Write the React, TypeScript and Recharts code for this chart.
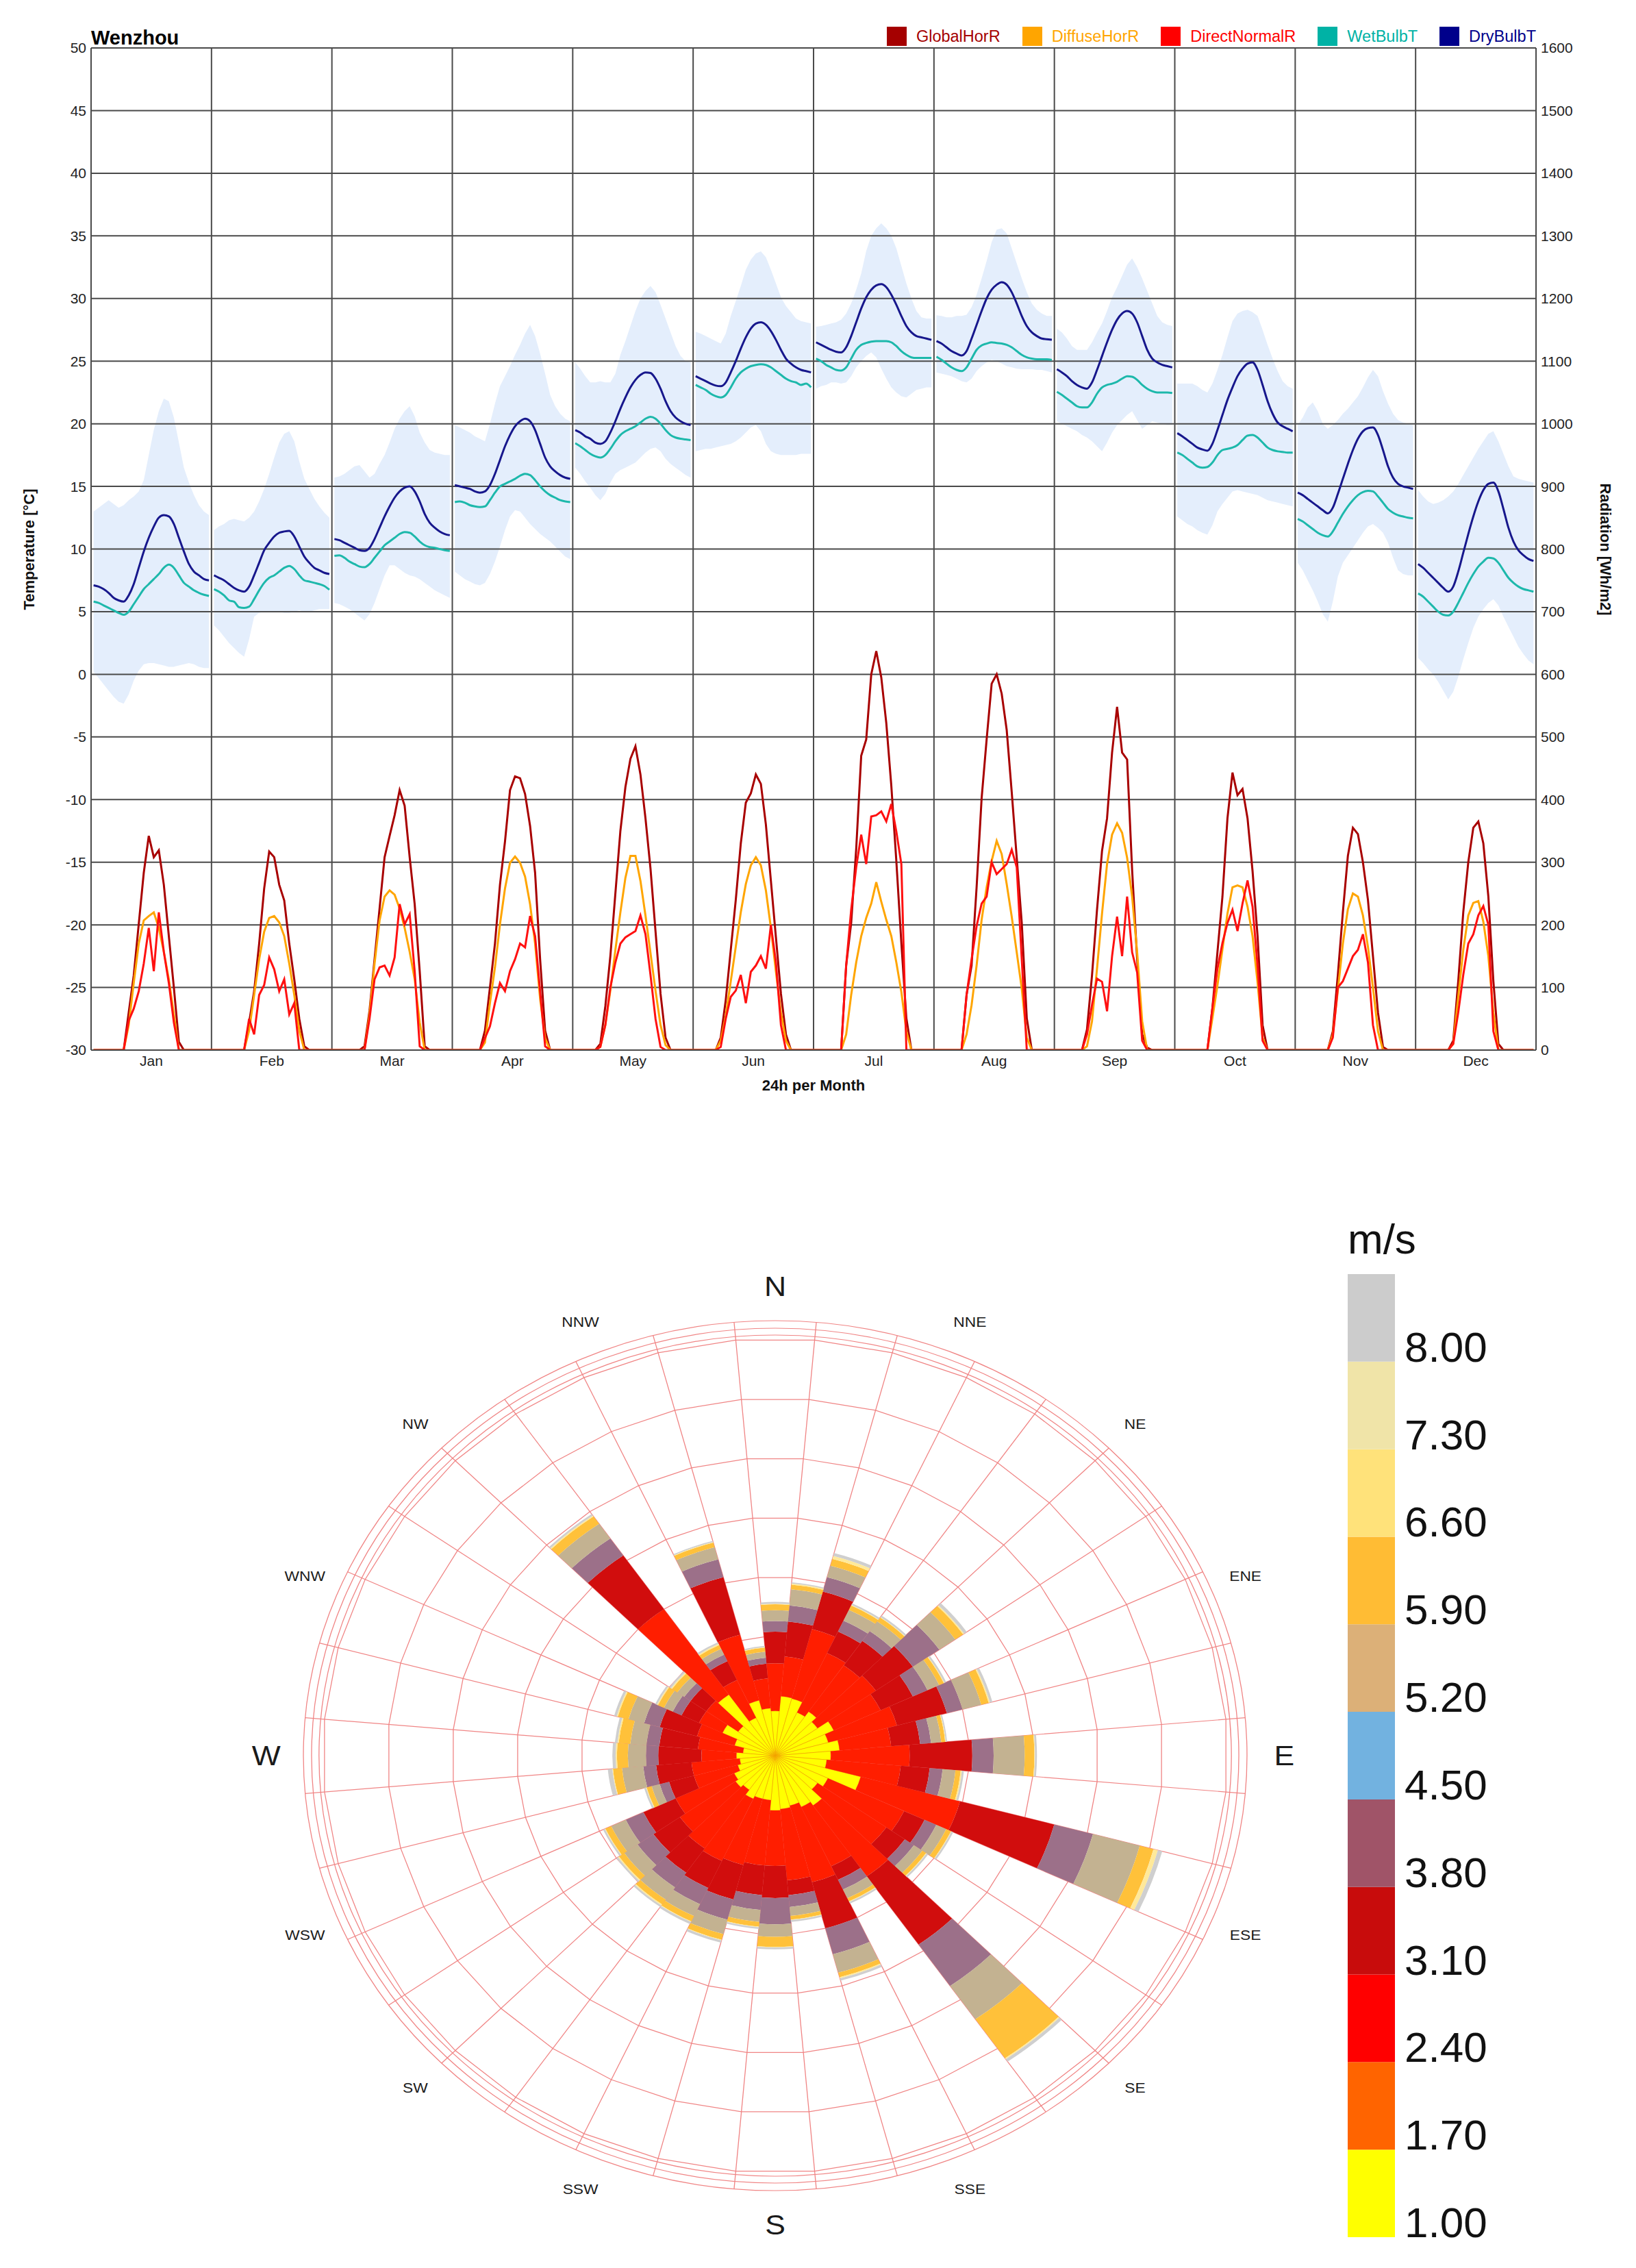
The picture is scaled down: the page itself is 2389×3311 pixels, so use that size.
import React from 'react';
import {
  ComposedChart, Line, Area, XAxis, YAxis, ReferenceLine,
  RadialBarChart, RadialBar, PolarGrid, PolarAngleAxis, PolarRadiusAxis,
  BarChart, Bar,
} from 'recharts';

// ---------------- climate data (24 hourly values per month) ----------------
const months = ['Jan', 'Feb', 'Mar', 'Apr', 'May', 'Jun', 'Jul', 'Aug', 'Sep', 'Oct', 'Nov', 'Dec'];

const dryBulb = [
  [7.1,7.0,6.8,6.5,6.1,5.9,5.8,6.3,7.2,8.5,9.8,10.9,11.8,12.5,12.7,12.6,12.0,10.9,9.8,8.8,8.2,7.9,7.6,7.5],
  [7.9,7.7,7.5,7.2,6.9,6.7,6.6,7.0,7.9,8.9,9.9,10.5,11.0,11.3,11.4,11.45,11.0,10.2,9.4,8.9,8.5,8.3,8.1,8.0],
  [10.8,10.7,10.5,10.3,10.1,9.9,9.85,10.1,10.8,11.7,12.6,13.4,14.1,14.6,14.9,15.0,14.6,13.8,12.8,12.1,11.7,11.4,11.2,11.1],
  [15.1,15.0,14.9,14.8,14.6,14.5,14.6,15.1,16.0,17.1,18.2,19.1,19.8,20.2,20.4,20.2,19.5,18.4,17.3,16.6,16.2,15.9,15.7,15.6],
  [19.5,19.3,19.0,18.8,18.5,18.4,18.6,19.3,20.2,21.2,22.1,22.9,23.5,23.9,24.1,24.05,23.6,22.8,21.8,21.0,20.5,20.2,20.0,19.9],
  [23.8,23.6,23.4,23.2,23.05,23.0,23.3,24.1,25.0,26.0,26.9,27.6,28.0,28.1,27.9,27.4,26.7,25.9,25.2,24.8,24.5,24.3,24.2,24.1],
  [26.5,26.3,26.1,25.9,25.75,25.7,26.1,27.0,28.1,29.2,30.1,30.7,31.05,31.15,30.9,30.3,29.5,28.6,27.8,27.3,27.0,26.9,26.8,26.7],
  [26.6,26.4,26.1,25.8,25.6,25.45,25.8,26.8,27.9,29.0,30.0,30.7,31.1,31.3,31.1,30.5,29.6,28.6,27.8,27.3,27.0,26.8,26.75,26.7],
  [24.35,24.1,23.8,23.4,23.1,22.9,22.8,23.3,24.3,25.4,26.5,27.5,28.3,28.8,29.0,28.8,28.1,27.0,25.9,25.2,24.9,24.7,24.6,24.5],
  [19.25,19.0,18.7,18.4,18.1,17.95,17.85,18.4,19.5,20.7,21.9,22.9,23.8,24.4,24.8,24.9,24.3,23.1,21.8,20.8,20.1,19.8,19.6,19.4],
  [14.5,14.3,14.0,13.7,13.4,13.1,12.85,13.3,14.4,15.6,16.8,17.9,18.8,19.4,19.65,19.7,19.1,17.9,16.6,15.7,15.2,15.0,14.9,14.8],
  [8.8,8.5,8.1,7.7,7.3,6.9,6.6,7.0,8.2,9.7,11.2,12.6,13.8,14.7,15.2,15.3,14.6,13.2,11.7,10.6,9.9,9.5,9.2,9.05],
];

const wetBulb = [
  [5.8,5.7,5.5,5.3,5.1,4.9,4.75,5.0,5.6,6.2,6.8,7.2,7.6,8.0,8.5,8.75,8.5,7.9,7.3,7.0,6.7,6.5,6.35,6.25],
  [6.8,6.6,6.3,5.9,5.8,5.35,5.3,5.4,6.0,6.7,7.3,7.7,7.9,8.2,8.5,8.65,8.4,7.9,7.5,7.4,7.3,7.2,7.05,6.75],
  [9.45,9.5,9.3,9.0,8.8,8.6,8.55,8.8,9.3,9.8,10.3,10.6,10.9,11.2,11.35,11.3,11.0,10.6,10.3,10.15,10.1,10.0,9.9,9.85],
  [13.75,13.8,13.7,13.5,13.4,13.35,13.4,13.9,14.5,15.0,15.2,15.4,15.6,15.85,16.0,15.9,15.5,15.0,14.6,14.3,14.1,13.9,13.8,13.75],
  [18.45,18.2,17.9,17.6,17.4,17.3,17.5,18.0,18.6,19.1,19.4,19.6,19.8,20.1,20.4,20.55,20.4,20.0,19.5,19.1,18.9,18.8,18.75,18.7],
  [23.1,22.9,22.7,22.4,22.2,22.1,22.3,22.9,23.6,24.1,24.4,24.6,24.7,24.75,24.7,24.5,24.2,23.9,23.6,23.4,23.3,23.1,23.2,22.9],
  [25.2,25.0,24.7,24.5,24.3,24.25,24.5,25.2,25.9,26.3,26.45,26.55,26.6,26.6,26.6,26.5,26.2,25.8,25.5,25.3,25.25,25.25,25.25,25.25],
  [25.35,25.1,24.8,24.5,24.3,24.2,24.5,25.2,25.9,26.25,26.4,26.5,26.45,26.4,26.3,26.1,25.8,25.5,25.3,25.2,25.15,25.15,25.15,25.1],
  [22.55,22.3,22.0,21.7,21.4,21.3,21.3,21.7,22.4,22.9,23.1,23.2,23.35,23.6,23.8,23.75,23.5,23.1,22.8,22.6,22.5,22.5,22.5,22.45],
  [17.7,17.5,17.2,16.9,16.6,16.5,16.55,16.9,17.5,17.9,18.0,18.1,18.3,18.7,19.05,19.1,18.9,18.5,18.1,17.9,17.8,17.75,17.7,17.7],
  [12.4,12.2,11.9,11.6,11.3,11.1,11.0,11.4,12.1,12.8,13.4,13.9,14.3,14.55,14.65,14.6,14.2,13.7,13.2,12.9,12.7,12.6,12.5,12.45],
  [6.45,6.2,5.8,5.4,5.0,4.75,4.7,5.0,5.7,6.5,7.3,8.0,8.6,9.0,9.3,9.25,8.9,8.3,7.7,7.3,7.0,6.8,6.7,6.6],
];

const bandHigh = [
  [13.0,13.3,13.6,13.9,13.6,13.3,13.5,13.9,14.2,14.6,15.5,17.5,19.5,21.0,22.0,21.8,20.5,18.5,16.5,15.3,14.3,13.5,13.0,12.7],
  [11.5,11.8,12.0,12.3,12.4,12.3,12.2,12.5,13.0,13.8,14.8,16.0,17.3,18.5,19.2,19.4,18.6,17.0,15.6,14.8,14.0,13.4,12.9,12.5],
  [15.7,15.8,16.0,16.3,16.6,16.7,16.2,15.7,16.0,16.8,17.5,18.5,19.6,20.4,21.0,21.4,20.6,19.3,18.5,17.9,17.7,17.6,17.5,17.5],
  [19.9,19.7,19.5,19.3,19.0,18.8,18.6,20.0,21.6,23.0,23.8,24.6,25.5,26.3,27.2,27.9,27.0,25.6,24.0,22.3,21.4,20.8,20.4,20.2],
  [24.9,24.4,23.8,23.3,23.3,23.4,23.3,23.3,24.0,25.5,26.6,27.8,29.0,30.0,30.6,31.0,30.5,29.5,28.4,27.3,26.2,25.4,25.0,24.9],
  [27.35,27.2,27.0,26.8,26.6,26.4,27.2,28.6,29.8,31.0,32.3,33.1,33.6,33.76,33.3,32.3,31.2,30.1,29.4,28.9,28.4,28.2,28.1,28.0],
  [27.75,27.8,27.9,28.0,28.1,28.3,28.8,29.6,30.7,32.0,33.8,35.0,35.6,36.0,35.6,35.0,34.0,32.6,31.2,30.0,29.0,28.5,28.4,28.4],
  [28.66,28.6,28.5,28.5,28.6,28.6,28.7,29.3,30.3,31.6,33.0,34.5,35.5,35.6,35.2,34.0,32.8,31.6,30.5,29.6,29.1,28.8,28.6,28.6],
  [27.6,27.3,26.8,26.2,25.9,25.9,25.9,26.5,27.3,28.0,29.0,30.1,30.9,31.8,32.7,33.2,32.5,31.6,30.6,29.6,28.6,28.1,27.9,27.8],
  [23.2,23.2,23.2,23.2,23.0,22.7,22.5,23.2,24.3,25.5,26.9,28.2,28.8,29.0,29.1,28.9,28.6,27.5,26.3,25.2,24.2,23.4,23.0,22.8],
  [19.9,20.5,21.3,21.7,21.0,20.0,19.6,19.9,20.3,20.8,21.2,21.7,22.2,22.9,23.7,24.3,23.8,22.6,21.6,20.8,20.3,20.1,20.0,19.9],
  [14.7,14.2,13.8,13.6,13.7,13.9,14.2,14.6,15.2,15.9,16.6,17.3,18.0,18.6,19.2,19.4,18.6,17.6,16.6,15.8,15.6,15.5,15.4,15.3],
];

const bandLow = [
  [0.2,-0.3,-0.8,-1.3,-1.8,-2.2,-2.35,-1.6,-0.5,0.3,0.8,0.9,0.9,0.8,0.7,0.6,0.6,0.7,0.8,0.9,0.8,0.6,0.5,0.5],
  [3.9,3.5,3.0,2.5,2.1,1.7,1.4,2.8,4.6,4.9,5.0,5.0,5.0,5.0,4.9,4.9,5.0,5.1,5.0,5.0,5.1,5.2,5.2,5.2],
  [5.7,5.6,5.4,5.2,4.9,4.6,4.3,4.8,5.7,6.8,7.9,8.7,8.7,8.4,8.1,7.9,7.8,7.6,7.3,7.0,6.7,6.5,6.3,6.1],
  [8.2,7.9,7.6,7.4,7.2,7.1,7.3,8.0,9.0,10.2,11.5,12.6,13.1,13.0,12.5,12.0,11.6,11.2,10.9,10.6,10.2,9.8,9.4,9.2],
  [16.5,16.0,15.4,14.9,14.3,13.9,14.4,15.3,16.0,16.3,16.5,16.7,16.9,17.3,17.7,18.0,18.1,17.8,17.2,16.8,16.5,16.2,15.9,15.7],
  [17.8,17.9,18.0,18.0,18.1,18.2,18.3,18.4,18.6,18.9,19.3,19.7,19.9,19.4,18.4,17.8,17.6,17.5,17.5,17.5,17.5,17.6,17.6,17.6],
  [22.8,23.0,23.1,23.3,23.3,23.2,23.3,23.8,24.5,25.0,25.4,25.7,25.3,24.4,23.6,22.9,22.5,22.2,22.1,22.4,22.7,22.8,22.9,22.9],
  [24.1,24.0,23.9,23.8,23.6,23.4,23.3,23.6,24.2,24.6,24.9,25.1,25.0,24.8,24.6,24.5,24.4,24.35,24.35,24.35,24.3,24.3,24.2,24.1],
  [20.2,20.0,19.8,19.6,19.4,19.1,18.9,18.6,18.2,17.8,18.5,19.3,19.9,20.3,20.7,21.0,20.3,19.6,19.9,20.2,20.1,20.0,19.9,19.9],
  [12.6,12.3,12.0,11.8,11.5,11.3,11.15,11.9,13.0,13.6,14.1,14.6,14.7,14.6,14.5,14.4,14.3,14.1,13.9,13.8,13.7,13.6,13.5,13.4],
  [8.9,8.3,7.5,6.7,5.8,4.8,4.2,5.8,7.8,8.9,9.5,10.1,10.7,11.3,11.8,12.0,11.7,11.3,10.5,9.3,8.3,8.0,7.9,7.9],
  [1.3,0.9,0.4,0.0,-0.6,-1.3,-2.0,-1.4,-0.2,1.2,2.5,3.7,4.6,5.2,5.7,6.0,5.5,4.6,3.8,3.0,2.2,1.6,1.1,0.8],
];

const globalHor = [
  [0,0,0,0,0,0,0,60,119,201,283,342,308,319,264,182,100,13,0,0,0,0,0,0],
  [0,0,0,0,0,0,0,44,94,170,258,317,308,264,239,170,113,50,6,0,0,0,0,0],
  [0,0,0,0,0,0,6,63,145,226,308,342,375,415,390,308,233,126,6,0,0,0,0,0],
  [0,0,0,0,0,0,31,100,170,264,333,415,437,434,409,358,283,145,31,0,0,0,0,0],
  [0,0,0,0,0,10,70,150,250,350,420,465,485,440,370,290,190,90,20,0,0,0,0,0],
  [0,0,0,0,0,20,80,160,240,330,395,410,440,425,360,270,180,90,25,0,0,0,0,0],
  [0,0,0,0,0,0,135,203,321,470,496,600,637,595,522,422,302,171,51,0,0,0,0,0],
  [0,0,0,0,0,0,88,135,260,402,496,585,600,569,511,412,307,203,51,0,0,0,0,0],
  [0,0,0,0,0,0,33,119,224,318,370,475,548,475,464,287,145,25,4,0,0,0,0,0],
  [0,0,0,0,0,0,0,67,156,245,370,443,407,417,370,286,182,40,0,0,0,0,0,0],
  [0,0,0,0,0,0,0,30,120,220,310,355,345,300,240,150,60,5,0,0,0,0,0,0],
  [0,0,0,0,0,0,0,15,110,220,300,355,365,330,245,110,10,0,0,0,0,0,0,0],
];

const diffuseHor = [
  [0,0,0,0,0,0,0,40,107,170,207,214,220,195,157,113,57,0,0,0,0,0,0,0],
  [0,0,0,0,0,0,0,31,88,145,189,211,214,204,182,138,88,31,0,0,0,0,0,0],
  [0,0,0,0,0,0,0,57,138,207,245,255,248,226,195,157,113,44,0,0,0,0,0,0],
  [0,0,0,0,0,0,12,75,132,201,258,299,309,299,277,233,170,82,19,0,0,0,0,0],
  [0,0,0,0,0,5,40,95,160,220,275,310,310,270,215,155,95,40,8,0,0,0,0,0],
  [0,0,0,0,0,15,55,110,165,220,265,295,308,295,255,195,125,60,15,0,0,0,0,0],
  [0,0,0,0,0,0,25,88,140,182,211,234,268,237,208,182,140,93,30,0,0,0,0,0],
  [0,0,0,0,0,0,25,72,135,208,260,302,334,313,265,213,156,98,20,0,0,0,0,0],
  [0,0,0,0,0,0,6,46,130,218,297,344,362,347,307,245,156,46,0,0,0,0,0,0],
  [0,0,0,0,0,0,0,51,103,161,218,260,263,260,229,182,108,20,0,0,0,0,0,0],
  [0,0,0,0,0,0,0,25,95,170,225,250,245,215,165,100,30,0,0,0,0,0,0,0],
  [0,0,0,0,0,0,0,10,85,160,215,235,238,205,150,60,0,0,0,0,0,0,0,0],
];

const directNormal = [
  [0,0,0,0,0,0,0,47,66,94,138,195,126,220,157,107,44,0,0,0,0,0,0,0],
  [0,0,0,0,0,0,0,50,25,88,104,148,129,94,113,57,75,0,0,0,0,0,0,0],
  [0,0,0,0,0,0,0,50,113,132,135,119,148,233,201,217,126,6,0,0,0,0,0,0],
  [0,0,0,0,0,0,19,38,75,107,94,126,145,170,164,214,182,94,6,0,0,0,0,0],
  [0,0,0,0,0,5,40,100,140,170,180,185,190,215,185,120,50,5,0,0,0,0,0,0],
  [0,0,0,0,0,5,50,85,95,120,75,125,135,150,130,200,140,40,0,0,0,0,0,0],
  [0,0,0,0,0,0,135,224,292,344,297,373,375,381,365,393,349,297,0,0,0,0,0,0],
  [0,0,0,0,0,0,88,145,198,234,245,300,281,289,297,320,292,145,0,0,0,0,0,0],
  [0,0,0,0,0,0,25,72,114,109,62,150,213,150,245,156,124,15,0,0,0,0,0,0],
  [0,0,0,0,0,0,0,67,130,171,203,224,190,234,271,229,135,15,0,0,0,0,0,0],
  [0,0,0,0,0,0,0,20,100,110,130,150,160,185,140,40,0,0,0,0,0,0,0,0],
  [0,0,0,0,0,0,0,10,60,120,170,185,215,230,200,30,0,0,0,0,0,0,0,0],
];

const tempTicks = [-30, -25, -20, -15, -10, -5, 0, 5, 10, 15, 20, 25, 30, 35, 40, 45, 50];
const radTicks = [0, 100, 200, 300, 400, 500, 600, 700, 800, 900, 1000, 1100, 1200, 1300, 1400, 1500, 1600];

const seriesLegend = [
  { name: 'GlobalHorR', color: '#A50000' },
  { name: 'DiffuseHorR', color: '#FFA500' },
  { name: 'DirectNormalR', color: '#FF0000' },
  { name: 'WetBulbT', color: '#00B2A5' },
  { name: 'DryBulbT', color: '#00008B' },
];

// ---------------- wind rose data (frequency per speed bin, 36 directions) ----------------
const windDirs = [0,10,20,30,40,50,60,70,80,90,100,110,120,130,140,150,160,170,180,190,200,210,220,230,240,250,260,270,280,290,300,310,320,330,340,350];
const windYellow = [.75,1.0,.99,.8,.9,.8,1.0,.85,1.0,.86,.8,1.37,.9,.8,1.02,.95,.87,.9,.92,.75,.75,.8,.7,.75,.7,.6,.55,.6,.5,.65,.9,.7,1.25,.7,.96,.8];
const windRed = [.80,.67,1.21,1.1,.95,1.1,.8,1.1,.8,1.22,1.15,1.59,1.3,1.3,1.45,1.1,1.33,1.2,.93,1.1,1.15,1.15,1.2,1.05,1.0,.7,.75,.54,.7,.6,.4,.6,1.75,.7,1.14,.5];
const windDark = [.53,.59,.65,.4,.5,.7,.55,.8,.45,.97,.45,1.51,.35,.35,1.4,.25,.8,.25,.54,.5,.6,.5,.5,.5,.55,.4,.55,.67,.6,.6,.3,.3,1.1,.35,1.0,.25];
const windMauve = [.18,.27,.25,.2,.2,.5,.25,.25,.17,.33,.2,.62,.2,.17,.85,.18,.45,.2,.44,.25,.35,.3,.3,.3,.3,.15,.2,.19,.2,.25,.15,.12,.35,.12,.31,.1];
const windTan = [.18,.27,.2,.2,.2,.3,.2,.3,.16,.48,.2,.75,.17,.16,.68,.16,.32,.15,.21,.2,.25,.22,.25,.25,.25,.13,.33,.28,.25,.25,.15,.13,.3,.11,.21,.1];
const windOrange = [.10,.08,.12,.08,.08,.15,.08,.12,.06,.15,.08,.22,.08,.07,.8,.06,.08,.06,.17,.08,.1,.1,.1,.1,.1,.08,.14,.17,.18,.17,.1,.1,.15,.07,.08,.07];
const windLight = [.01,.02,.05,.01,.01,.02,.01,.02,.01,.01,.02,.07,.01,.01,.02,.01,.02,.01,.01,.01,.01,.01,.02,.02,.01,.01,.01,.02,.02,.02,.02,.02,.02,.02,.01,.01];
const windGray = [.03,.02,.05,.03,.03,.05,.03,.04,.02,.03,.03,.07,.03,.03,.05,.03,.04,.03,.03,.03,.04,.04,.03,.03,.03,.03,.07,.05,.04,.04,.03,.03,.03,.03,.02,.02];

const compassLabels = ['N','NNE','NE','ENE','E','ESE','SE','SSE','S','SSW','SW','WSW','W','WNW','NW','NNW'];
const compassDegrees = [0,22.5,45,67.5,90,112.5,135,157.5,180,202.5,225,247.5,270,292.5,315,337.5];
const ringTicks = [0,1,2,3,4,5,6,7];

const speedLabels = ['1.00','1.70','2.40','3.10','3.80','4.50','5.20','5.90','6.60','7.30','8.00'];
const speedColors = ['#FFFF00','#FF6400','#FF0000','#C80C0C','#A05468','#72B2E0','#DCB078','#FFBC34','#FFE27A','#F0E4A8','#CCCCCC'];

// ---------------- derived tables ----------------
const climateRows: any[] = [];
months.forEach((_, m) => {
  for (let h = 0; h < 24; h++) {
    climateRows.push({
      x: m * 24 + h + 0.5,
      dry: dryBulb[m][h],
      wet: wetBulb[m][h],
      band: [bandLow[m][h], bandHigh[m][h]],
      gh: globalHor[m][h],
      dh: diffuseHor[m][h],
      dn: directNormal[m][h],
    });
  }
  if (m < months.length - 1) {
    climateRows.push({ x: m * 24 + 24, dry: null, wet: null, band: null, gh: 0, dh: 0, dn: 0 });
  }
});
const monthTicks = months.map((_, i) => i * 24 + 12);
const monthBounds = months.slice(1).map((_, i) => (i + 1) * 24);

const windRows = windDirs.map((d, i) => ({
  dir: d, y: windYellow[i], r: windRed[i], d: windDark[i], m: windMauve[i],
  t: windTan[i], o: windOrange[i], l: windLight[i], g: windGray[i],
}));
const windLayers = [
  { key: 'y', color: '#FFFF00', stroke: '#F2A000' },
  { key: 'r', color: '#FF1E00' },
  { key: 'd', color: '#D10D0D' },
  { key: 'm', color: '#9C7089' },
  { key: 't', color: '#C3B291' },
  { key: 'o', color: '#FFC13A' },
  { key: 'l', color: '#FFE99A' },
  { key: 'g', color: '#CFCFCF' },
];
const spokeAngles = windDirs.map((d) => 85 - d);

const speedRow: any = { k: 'm/s' };
speedColors.forEach((_, i) => { speedRow['s' + i] = 1; });

// ---------------- styling constants ----------------
const FONT = '"Liberation Sans", Arial, Helvetica, sans-serif';
const GRID = '#4a4a4a';
const ROSE_SIZE = 1500;
const ROSE_C = 750;
const LABEL_R = 685;
const ROSE_RED = '#F08585';

const CompassTick = (props: any) => {
  const v = props.payload.value;
  const idx = compassDegrees.indexOf(v);
  if (idx < 0) return null;
  const major = idx % 4 === 0;
  const rad = (v * Math.PI) / 180;
  const x = ROSE_C + LABEL_R * Math.sin(rad);
  const y = ROSE_C - LABEL_R * Math.cos(rad);
  return (
    <text x={x} y={y} textAnchor="middle" dominantBaseline="central" fontSize={major ? 41 : 21} fill="#1a1a1a">
      {compassLabels[idx]}
    </text>
  );
};

const SpeedTick = (props: any) => (
  <text x={props.x + 14} y={props.y} fontSize={62} fill="#111" textAnchor="start">
    {speedLabels[props.payload.value]}
  </text>
);

export default function App() {
  return (
    <div style={{ position: 'absolute', left: 0, top: 0, width: 2389, height: 3311, fontFamily: FONT, background: '#fff' }}>
      {/* ---------------- climate chart ---------------- */}
      <div style={{ position: 'absolute', left: 0, top: 0 }}>
        <ComposedChart width={2389} height={1620} data={climateRows} margin={{ top: 70, right: 30, bottom: 20, left: 30 }}>
          <XAxis
            dataKey="x" type="number" domain={[0, 288]} ticks={monthTicks} interval={0}
            tickFormatter={(v: number) => months[Math.floor(v / 24)]}
            tickLine={false} tickSize={0} tickMargin={8} height={67}
            axisLine={{ stroke: GRID, strokeWidth: 2 }} tick={{ fontSize: 21, fill: '#222' }} allowDataOverflow
          />
          <YAxis
            yAxisId="t" domain={[-30, 50]} ticks={tempTicks} interval={0} width={103}
            tickLine={false} tickSize={0} tickMargin={7} axisLine={{ stroke: GRID, strokeWidth: 2 }}
            tick={{ fontSize: 21, fill: '#222' }} allowDataOverflow
          />
          <YAxis
            yAxisId="r" orientation="right" domain={[0, 1600]} ticks={radTicks} interval={0} width={116}
            tickLine={false} tickSize={0} tickMargin={7} axisLine={{ stroke: GRID, strokeWidth: 2 }}
            tick={{ fontSize: 21, fill: '#222' }} allowDataOverflow
          />
          <Area
            yAxisId="t" dataKey="band" type="linear" stroke="none" fill="#E4EEFC" fillOpacity={1}
            isAnimationActive={false} connectNulls={false} activeDot={false}
          />
          {tempTicks.map((t) => (
            <ReferenceLine key={'h' + t} y={t} yAxisId="t" stroke={GRID} strokeWidth={2} />
          ))}
          {monthBounds.map((b) => (
            <ReferenceLine key={'v' + b} x={b} yAxisId="t" stroke={GRID} strokeWidth={2} />
          ))}
          <Line yAxisId="r" dataKey="gh" type="linear" stroke="#A80000" strokeWidth={3} dot={false} activeDot={false} isAnimationActive={false} />
          <Line yAxisId="r" dataKey="dh" type="linear" stroke="#FFA500" strokeWidth={3} dot={false} activeDot={false} isAnimationActive={false} />
          <Line yAxisId="r" dataKey="dn" type="linear" stroke="#FF1010" strokeWidth={3} dot={false} activeDot={false} isAnimationActive={false} />
          <Line yAxisId="t" dataKey="wet" type="monotone" stroke="#1DB8AB" strokeWidth={3} dot={false} activeDot={false} connectNulls={false} isAnimationActive={false} />
          <Line yAxisId="t" dataKey="dry" type="monotone" stroke="#17178C" strokeWidth={3} dot={false} activeDot={false} connectNulls={false} isAnimationActive={false} />
        </ComposedChart>
      </div>

      {/* titles for the climate chart */}
      <svg width={2389} height={1650} style={{ position: 'absolute', left: 0, top: 0, pointerEvents: 'none' }}>
        <text x={133} y={65} fontSize={29} fontWeight="bold" fill="#000">Wenzhou</text>
        <text x={42} y={802} fontSize={22} fontWeight="bold" fill="#111" textAnchor="middle" dominantBaseline="central" transform="rotate(-90 42 802)">Temperature [°C]</text>
        <text x={2344} y={802} fontSize={22} fontWeight="bold" fill="#111" textAnchor="middle" dominantBaseline="central" transform="rotate(90 2344 802)">Radiation [Wh/m2]</text>
        <text x={1188} y={1592} fontSize={22} fontWeight="bold" fill="#111" textAnchor="middle">24h per Month</text>
      </svg>

      {/* legend of the climate chart */}
      <div style={{ position: 'absolute', right: 2389 - 2243, top: 39, display: 'flex', alignItems: 'center', height: 28 }}>
        {seriesLegend.map((s, i) => (
          <div key={s.name} style={{ display: 'flex', alignItems: 'center', marginLeft: i === 0 ? 0 : 32 }}>
            <div style={{ width: 29, height: 28, background: s.color, marginRight: 14 }} />
            <span style={{ color: s.color, fontSize: 23.5, lineHeight: '28px', whiteSpace: 'nowrap' }}>{s.name}</span>
          </div>
        ))}
      </div>

      {/* ---------------- wind rose ---------------- */}
      <div style={{
        position: 'absolute', left: 1132 - ROSE_C, top: 2563 - ROSE_C, width: ROSE_SIZE, height: ROSE_SIZE,
        transform: 'scaleX(1.085)', transformOrigin: `${ROSE_C}px ${ROSE_C}px`,
      }}>
        <RadialBarChart
          width={ROSE_SIZE} height={ROSE_SIZE} cx={ROSE_C} cy={ROSE_C} innerRadius={0} outerRadius={635}
          data={windRows} layout="centric" startAngle={85} endAngle={-275} barCategoryGap={0} barGap={0}
          margin={{ top: 0, right: 0, bottom: 0, left: 0 }}
        >
          <PolarGrid gridType="polygon" polarAngles={spokeAngles} stroke={ROSE_RED} strokeWidth={1.2} />
          <PolarGrid gridType="circle" polarRadius={[614, 624]} polarAngles={[]} radialLines={false} stroke={ROSE_RED} strokeWidth={1.2} />
          <PolarAngleAxis
            dataKey="dir" type="category" tick={false} tickLine={false}
            axisLine={{ stroke: ROSE_RED, strokeWidth: 1.2 }} axisLineType="circle"
          />
          <PolarAngleAxis
            angleAxisId="compass" type="number" domain={[-5, 355]} allowDataOverflow ticks={compassDegrees}
            tick={CompassTick} tickLine={false} axisLine={false}
          />
          <PolarRadiusAxis
            type="number" domain={[0, 7.3]} allowDataOverflow ticks={ringTicks}
            tick={false} axisLine={false} tickLine={false}
          />
          {windLayers.map((l) => (
            <RadialBar
              key={l.key} dataKey={l.key} stackId="wind" fill={l.color}
              stroke={l.stroke || 'none'} strokeWidth={l.stroke ? 0.6 : 0}
              isAnimationActive={false}
            />
          ))}
        </RadialBarChart>
      </div>

      {/* ---------------- speed legend ---------------- */}
      <div style={{ position: 'absolute', left: 1968, top: 1778, fontSize: 62, lineHeight: '62px', color: '#111' }}>m/s</div>
      <div style={{ position: 'absolute', left: 1960, top: 1850 }}>
        <BarChart width={260} height={1430} data={[speedRow]} margin={{ top: 10, right: 0, bottom: 14, left: 8 }} barCategoryGap={0} barGap={0}>
          <XAxis dataKey="k" hide />
          <YAxis
            orientation="right" type="number" domain={[0, 11]} ticks={[0,1,2,3,4,5,6,7,8,9,10]} interval={0}
            tick={SpeedTick} axisLine={false} tickLine={false} tickSize={0} tickMargin={0} width={183} allowDataOverflow
          />
          {speedColors.map((c, i) => (
            <Bar key={'s' + i} dataKey={'s' + i} stackId="s" fill={c} isAnimationActive={false} />
          ))}
        </BarChart>
      </div>
    </div>
  );
}
